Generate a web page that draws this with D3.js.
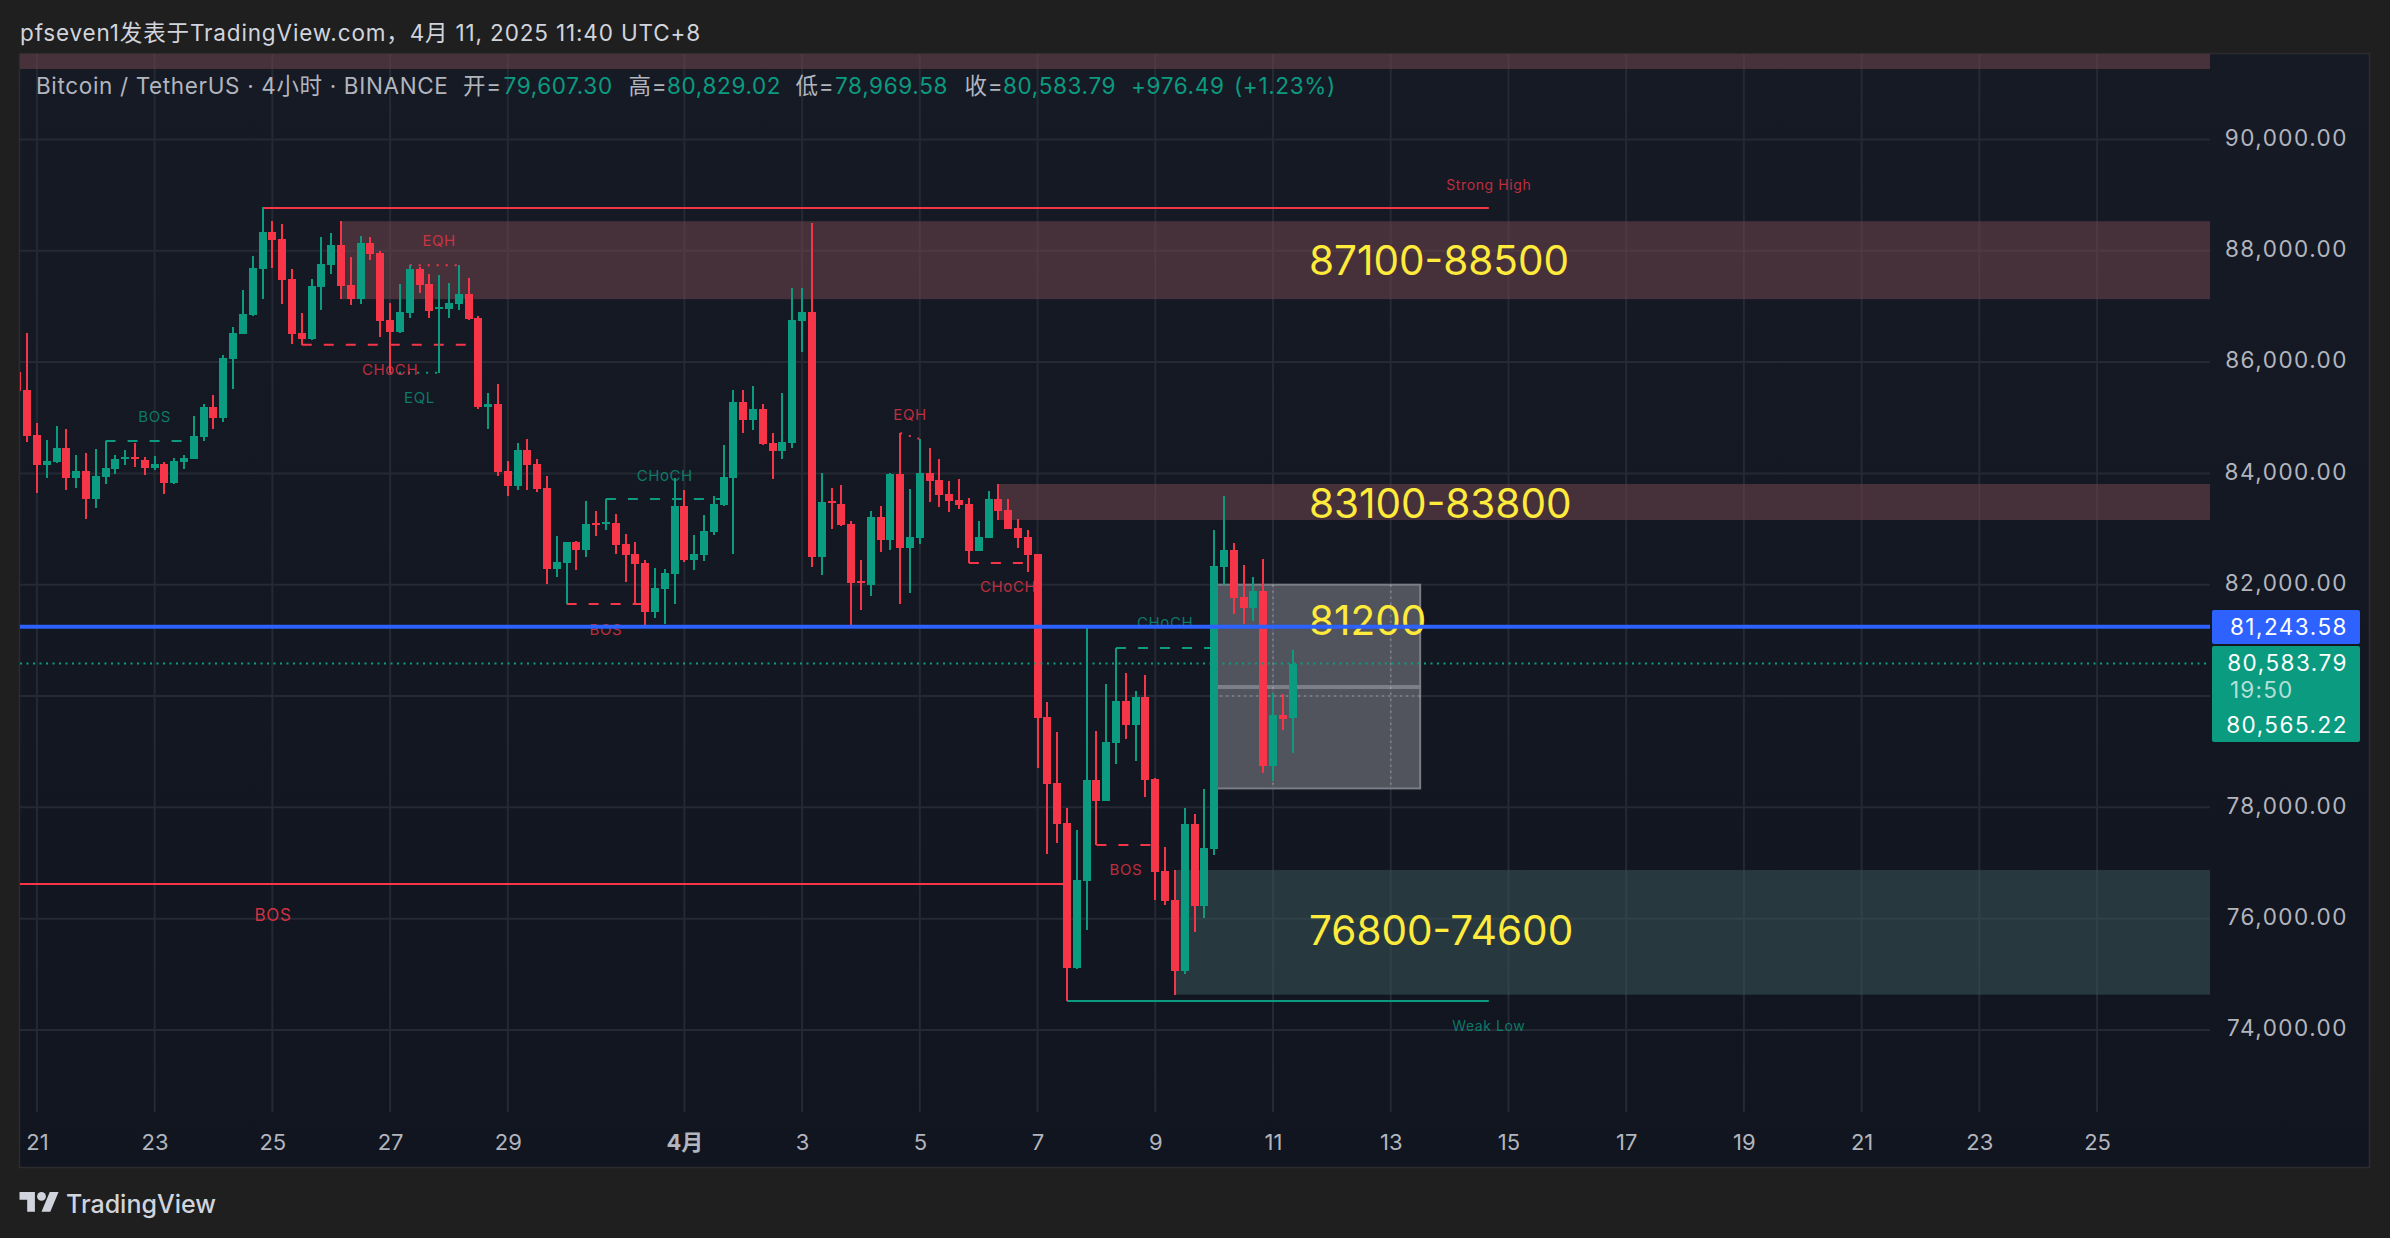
<!DOCTYPE html>
<html>
<head>
<meta charset="utf-8">
<script src="https://cdn.jsdelivr.net/npm/d3@7"></script>
<style>
  html, body { margin: 0; padding: 0; background: #1f1f1f; overflow: hidden; }
  text { font-family: Inter, "Noto Sans CJK SC", sans-serif; }
</style>
</head>
<body>
<svg id="chart" width="2390" height="1238"></svg>
<script>
// 4h candles, first one is clipped by the left edge of the pane
const opens = [85821,
  85498,84690,84150,84204,84456,83923,84043,83540,83941,84078,
  84264,84288,84240,84097,84168,83833,84210,84264,84660,85193,
  85001,86055,86510,86839,87672,88337,88211,87486,86528,86414,
  87354,87744,88103,87384,87133,88139,87959,86756,86540,86881,
  87672,87402,86953,86953,87043,87223,86791,85198,85246,84042,
  83773,84420,84168,83737,82282,82389,82766,82623,83108,83090,
  83108,82731,82551,82389,81509,81922,82192,83414,82443,82533,
  82946,83431,83917,85282,84959,85156,84545,84402,84545,86737,
  86899,82497,83503,83449,83090,82066,81994,83216,82803,83989,
  82659,82839,84007,83881,83629,83521,83449,82605,82839,83539,
  83342,83018,82857,82552,79620,78440,77721,75122,76681,78491,
  78112,79158,79909,79485,79979,78510,76855,76335,75065,77702,
  76226,77253,82315,82623,81776,81584,81885,78741,79659,79607.30]
const highs = [85821,
  86522,84899,84600,84851,84791,84330,84360,84438,84582,84330,
  84420,84546,84288,84312,84198,84270,84330,85031,85246,85408,
  86127,86630,87295,87905,88780,88534,88480,87672,86875,87486,
  88241,88313,88534,87887,88265,88247,87995,87061,87402,87744,
  87714,87582,87564,87414,87744,87510,86827,85444,85606,84222,
  84546,84617,84258,83953,82874,82766,82785,83503,83324,83539,
  83270,82910,82766,82443,82300,82282,83917,83701,82893,83252,
  83593,84510,85498,85498,85570,85246,84725,85444,87330,87330,
  88498,84007,83737,83791,83144,82443,83324,83414,84007,84725,
  83719,84617,84456,84258,83863,83899,83557,83144,83683,83809,
  83539,83180,82982,82552,79890,79351,77990,77593,81244,79370,
  80217,80865,80416,80089,80377,78529,77284,76874,77990,77881,
  78330,82982,83592,82751,82354,82135,82463,80057,80037,80829.02]
const lows = [85481,
  84570,83653,83923,84192,83701,83743,83186,83384,83815,83995,
  84156,84120,83977,84067,83635,83815,84085,84264,84588,84803,
  84929,85522,86510,86820,87133,87690,87043,86324,86306,86396,
  86935,87582,87133,87025,87043,87834,86444,85803,86528,86797,
  87241,86791,85803,86791,86935,86755,85156,84797,83958,83593,
  83701,83701,83665,82012,82138,81653,82264,82497,82874,82982,
  82551,82048,81653,81276,81401,81293,81653,82407,82264,82425,
  82893,83414,82551,84725,84779,84510,83899,84258,84456,86180,
  82317,82174,83000,83054,81234,81545,81796,82587,82623,81653,
  81850,82731,83486,83396,83306,83360,82389,82605,82839,83162,
  83000,82659,82228,78715,77163,77368,74519,75103,75796,77323,
  78112,78780,79229,78831,78189,76335,76245,74635,75013,75757,
  76014,77150,81994,81475,81295,81346,78619,78472,79389,78969.58]
const closes = [85481,
  84678,84156,84222,84456,83923,84043,83540,83953,84097,84258,
  84288,84264,84103,84168,83833,84216,84276,84672,85193,85001,
  86073,86522,86863,87684,88337,88193,87480,86504,86414,87366,
  87762,88103,87372,87133,88139,87941,86744,86546,86899,87672,
  87384,86917,86989,87061,87223,86773,85192,85246,84030,83773,
  84420,84150,83719,82282,82407,82766,82623,83090,83072,83126,
  82713,82533,82372,81509,81940,82210,83414,82443,82551,82964,
  83449,83935,85282,84959,85156,84528,84402,84563,86755,86899,
  82497,83486,83467,83072,82030,82030,83216,82803,83989,82659,
  82857,84007,83863,83611,83503,83432,82605,82857,83539,83324,
  83000,82839,82533,79614,78420,77702,75122,76694,78491,78112,
  79171,79909,79485,79979,78497,76835,76316,75065,77702,76226,
  77272,82334,82623,81770,81584,81885,78741,79659,79594,80583.79]

const priceTicks = [74000,76000,78000,80000,82000,84000,86000,88000,90000]
const dayTicks = ['03-21','03-23','03-25','03-27','03-29','04-01','04-03','04-05','04-07','04-09','04-11','04-13','04-15','04-17','04-19','04-21','04-23','04-25']
const dayLabels = ['21','23','25','27','29','4月','3','5','7','9','11','13','15','17','19','21','23','25']

// supply / demand zones: [from bar, top, bottom]
const redZones = [[-2,92500,91265],[32,88530,87130],[99,83809,83162]]
const tealZones = [[117,76874,74635]]
const zoneLabels = ['87100-88500','83100-83800','81200','76800-74600']
const zoneLabelPrices = [87820,83460,81348,75780]

// [from bar, to bar, price start, price end, colour key, dash key]
const structureLines = [
  [8,17,84582,84582,'up','dash'],
  [28,45,86311,86311,'down','dash'],
  [39,44,87738,87738,'down','dot'],
  [37,42,85809,85809,'up','dot'],
  [59,71,83539,83539,'up','dash'],
  [55,63,81653,81653,'down','dash'],
  [89,91,84725,84617,'down','dot'],
  [96,102,82389,82389,'down','dash'],
  [111,121,80865,80865,'up','dash'],
  [109,115,77323,77323,'down','dash'],
  [24,149,88768,88768,'down','solid'],
  [106,149,74521,74521,'up','solid'],
  [-2,106,76623,76623,'down','solid']
]

// small structure labels: [text, bar, price, colour key]
const structureLabels = [
  ['BOS',13,85013,'up'],
  ['CHoCH',37,85875,'down'],
  ['EQL',40,85372,'up'],
  ['EQH',42,88175,'down'],
  ['CHoCH',65,83970,'up'],
  ['BOS',59,81204,'down'],
  ['EQH',90,85049,'down'],
  ['CHoCH',100,81959,'down'],
  ['CHoCH',116,81321,'up'],
  ['BOS',112,76892,'down'],
  ['Strong High',149,89190,'down'],
  ['Weak Low',149,74080,'up']
]

const greyBox = {from: 121, to: 142, top: 82000, bottom: 78340, mid: 80162}
const lastPrice = 80583.79
const drawnPrice = 81243.58
const otherPrice = 80565.22
const countdown = '19:50'

const colors = {up: '#0a9b80', down: '#f63648', blue: '#2d62ff', yellow: '#ffeb3b', axis: '#b2b5be', head: '#d1d4dc'}
const dashes = {dash: '10,12', dot: '2,7', solid: null}

const pane = {left: 20, right: 2210, top: 54, bottom: 1112}

const barTime = i => new Date(Date.UTC(2025, 2, 20, 20) + i * 4 * 3600 * 1000)
const dayDate = d => new Date(`2025-${d}T00:00:00Z`)

let x = d3.scaleUtc()
  .domain([dayDate('03-21'), dayDate('04-11')])
  .range([36.9, 1273])

let y = d3.scaleLinear()
  .domain([74000, 90000])
  .range([1030, 139.4])

let svg = d3.select('#chart')

let defs = svg.append('defs')
let grad = defs.append('linearGradient').attr('id', 'paneBg').attr('x1', 0).attr('x2', 0).attr('y1', 0).attr('y2', 1)
grad.append('stop').attr('offset', '0%').attr('stop-color', '#161a25')
grad.append('stop').attr('offset', '100%').attr('stop-color', '#11151f')

defs.append('clipPath').attr('id', 'paneClip')
  .append('rect')
  .attr('x', pane.left).attr('y', pane.top)
  .attr('width', pane.right - pane.left).attr('height', pane.bottom - pane.top)

// pane background and frame
svg.append('rect')
  .attr('x', 19.5).attr('y', 53.5)
  .attr('width', 2350).attr('height', 1114)
  .attr('fill', 'url(#paneBg)')
  .attr('stroke', '#2c2c2e')
  .attr('stroke-width', 1.5)

let plot = svg.append('g').attr('clip-path', 'url(#paneClip)')

// grid
plot.append('g').selectAll('line')
  .data(dayTicks)
  .join('line')
  .attr('x1', d => x(dayDate(d))).attr('x2', d => x(dayDate(d)))
  .attr('y1', pane.top).attr('y2', pane.bottom)
  .attr('stroke', '#252934').attr('stroke-width', 2)

plot.append('g').selectAll('line')
  .data(priceTicks)
  .join('line')
  .attr('x1', pane.left).attr('x2', pane.right)
  .attr('y1', d => y(d)).attr('y2', d => y(d))
  .attr('stroke', '#252934').attr('stroke-width', 2)

// zones
plot.append('g').selectAll('rect')
  .data(redZones)
  .join('rect')
  .attr('x', d => x(barTime(d[0])))
  .attr('y', d => y(d[1]))
  .attr('width', d => pane.right - x(barTime(d[0])))
  .attr('height', d => y(d[2]) - y(d[1]))
  .attr('fill', 'rgba(119,71,80,.5)')

plot.append('g').selectAll('rect')
  .data(tealZones)
  .join('rect')
  .attr('x', d => x(barTime(d[0])))
  .attr('y', d => y(d[1]))
  .attr('width', d => pane.right - x(barTime(d[0])))
  .attr('height', d => y(d[2]) - y(d[1]))
  .attr('fill', 'rgba(59,91,92,.5)')

// grey box with the midline
let boxX0 = x(barTime(greyBox.from))
let boxX1 = x(barTime(greyBox.to))
plot.append('rect')
  .attr('x', boxX0).attr('y', y(greyBox.top))
  .attr('width', boxX1 - boxX0).attr('height', y(greyBox.bottom) - y(greyBox.top))
  .attr('fill', 'rgba(124,125,133,.6)')
  .attr('stroke', '#7b7d86').attr('stroke-width', 2)

plot.append('line')
  .attr('x1', boxX0).attr('x2', boxX1)
  .attr('y1', y(greyBox.mid)).attr('y2', y(greyBox.mid))
  .attr('stroke', '#7d7f88').attr('stroke-width', 4)

// the grid shows dotted through the box
let boxGrid = plot.append('g')
  .attr('stroke', 'rgba(255,255,255,.28)').attr('stroke-width', 1.5).attr('stroke-dasharray', '2,4')
boxGrid.selectAll('line.v')
  .data(['04-11','04-13'])
  .join('line')
  .attr('class', 'v')
  .attr('x1', d => x(dayDate(d))).attr('x2', d => x(dayDate(d)))
  .attr('y1', y(greyBox.top)).attr('y2', y(greyBox.bottom))
boxGrid.append('line')
  .attr('x1', boxX0).attr('x2', boxX1)
  .attr('y1', y(80000)).attr('y2', y(80000))

// structure lines
plot.append('g').selectAll('line')
  .data(structureLines)
  .join('line')
  .attr('x1', d => x(barTime(d[0]))).attr('x2', d => x(barTime(d[1])))
  .attr('y1', d => y(d[2])).attr('y2', d => y(d[3]))
  .attr('stroke', d => colors[d[4]])
  .attr('stroke-width', 2)
  .attr('stroke-dasharray', d => dashes[d[5]])

// small labels
plot.append('g').selectAll('text')
  .data(structureLabels)
  .join('text')
  .attr('x', d => x(barTime(d[1])))
  .attr('y', d => y(d[2]))
  .attr('text-anchor', 'middle')
  .attr('dominant-baseline', 'central')
  .attr('font-size', d => d[0].length > 5 ? 14 : 15)
  .attr('letter-spacing', 0.6)
  .attr('fill', d => colors[d[3]])
  .attr('fill-opacity', 0.75)
  .text(d => d[0])

plot.append('text')
  .attr('x', 273).attr('y', y(76623) + 31)
  .attr('text-anchor', 'middle').attr('dominant-baseline', 'central')
  .attr('font-size', 17).attr('letter-spacing', 0.6)
  .attr('fill', colors.down).attr('fill-opacity', 0.85)
  .text('BOS')

// big zone labels
plot.append('g').selectAll('text')
  .data(zoneLabels)
  .join('text')
  .attr('x', 1309)
  .attr('y', (d, i) => y(zoneLabelPrices[i]))
  .attr('dominant-baseline', 'central')
  .attr('font-size', 40.5)
  .attr('fill', colors.yellow)
  .text(d => d)

// candles
let candles = opens.map((o, i) => ({
  time: barTime(i - 1), open: o, high: highs[i], low: lows[i], close: closes[i]
}))
const candleColor = d => d.close >= d.open ? colors.up : colors.down

let candleG = plot.append('g').attr('shape-rendering', 'crispEdges')
candleG.selectAll('rect.wick')
  .data(candles)
  .join('rect')
  .attr('class', 'wick')
  .attr('x', d => Math.round(x(d.time)) - 1)
  .attr('width', 2)
  .attr('y', d => y(d.high))
  .attr('height', d => y(d.low) - y(d.high))
  .attr('fill', candleColor)

candleG.selectAll('rect.body')
  .data(candles)
  .join('rect')
  .attr('class', 'body')
  .attr('x', d => Math.round(x(d.time)) - 4)
  .attr('width', 8)
  .attr('y', d => y(Math.max(d.open, d.close)))
  .attr('height', d => Math.max(2, Math.abs(y(d.open) - y(d.close))))
  .attr('fill', candleColor)

// price lines on top of everything
plot.append('line')
  .attr('x1', pane.left).attr('x2', pane.right)
  .attr('y1', y(lastPrice)).attr('y2', y(lastPrice))
  .attr('stroke', colors.up).attr('stroke-width', 2).attr('stroke-dasharray', '2,4.5')

plot.append('line')
  .attr('x1', pane.left).attr('x2', pane.right)
  .attr('y1', y(drawnPrice)).attr('y2', y(drawnPrice))
  .attr('stroke', colors.blue).attr('stroke-width', 4)

// axes
let priceAxis = svg.append('g')
  .attr('transform', 'translate(2348,-2)')
  .call(d3.axisRight(y).tickValues(priceTicks).tickFormat(d3.format(',.2f')).tickSize(0))
priceAxis.select('.domain').remove()
priceAxis.selectAll('text')
  .attr('x', 0).attr('dy', '.35em')
  .attr('text-anchor', 'end')
  .attr('font-size', 22.5).attr('letter-spacing', 1.5)
  .attr('fill', colors.axis)

let timeAxis = svg.append('g')
  .attr('transform', 'translate(0,1142)')
  .call(d3.axisBottom(x)
    .tickValues(dayTicks.map(dayDate))
    .tickFormat((d, i) => dayLabels[i])
    .tickSize(0)
    .tickPadding(0))
timeAxis.select('.domain').remove()
timeAxis.selectAll('text')
  .attr('y', 0).attr('dy', '.35em')
  .attr('font-size', 22)
  .attr('font-weight', (d, i) => dayLabels[i] === '4月' ? 700 : 400)
  .attr('fill', colors.axis)

// price tags
const fmt = d3.format(',.2f')
svg.append('rect').attr('x', 2212).attr('y', 610).attr('width', 148).attr('height', 34).attr('rx', 2).attr('fill', colors.blue)
svg.append('rect').attr('x', 2212).attr('y', 646).attr('width', 148).attr('height', 96).attr('rx', 2).attr('fill', colors.up)

let tags = [[fmt(drawnPrice), 626], [fmt(lastPrice), 662], [fmt(otherPrice), 724]]
svg.append('g').selectAll('text')
  .data(tags)
  .join('text')
  .attr('x', 2348).attr('y', d => d[1])
  .attr('text-anchor', 'end').attr('dominant-baseline', 'central')
  .attr('font-size', 22.5).attr('letter-spacing', 1.5)
  .attr('fill', '#fff')
  .text(d => d[0])

svg.append('text')
  .attr('x', 2230).attr('y', 689)
  .attr('dominant-baseline', 'central')
  .attr('font-size', 22.5).attr('letter-spacing', 1.2)
  .attr('fill', '#fff').attr('fill-opacity', 0.7)
  .text(countdown)

// title bar
svg.append('text')
  .attr('x', 20).attr('y', 32)
  .attr('dominant-baseline', 'central')
  .attr('font-size', 22.5).attr('letter-spacing', 0.85)
  .attr('fill', colors.head)
  .text('pfseven1发表于TradingView.com，4月 11, 2025 11:40 UTC+8')

// legend line: [text, left edge, colour]
const legendParts = [
  ['Bitcoin / TetherUS · 4小时 · BINANCE', 36, colors.axis],
  ['开=', 463, colors.axis], ['79,607.30', 503.5, colors.up],
  ['高=', 628.5, colors.axis], ['80,829.02', 667, colors.up],
  ['低=', 795.5, colors.axis], ['78,969.58', 835, colors.up],
  ['收=', 964.5, colors.axis], ['80,583.79', 1003, colors.up],
  ['+976.49', 1131, colors.up], ['(+1.23%)', 1234, colors.up]
]
svg.append('g').selectAll('text')
  .data(legendParts)
  .join('text')
  .attr('x', d => d[1]).attr('y', 85.5)
  .attr('dominant-baseline', 'central')
  .attr('font-size', 22.5).attr('letter-spacing', 0.65)
  .attr('fill', d => d[2])
  .text(d => d[0])

// logo
let logo = svg.append('g').attr('transform', 'translate(19.5,1187.6) scale(1.1)').attr('fill', '#d1d4dc')
logo.append('path').attr('d', 'M14 22H7V11H0V4h14v18zM28 22h-8l7.5-18h8L28 22z')
logo.append('circle').attr('cx', 20).attr('cy', 8).attr('r', 4)
svg.append('text')
  .attr('x', 66).attr('y', 1204)
  .attr('dominant-baseline', 'central')
  .attr('font-size', 25).attr('font-weight', 500)
  .attr('fill', '#d1d4dc')
  .text('TradingView')
</script>
</body>
</html>
